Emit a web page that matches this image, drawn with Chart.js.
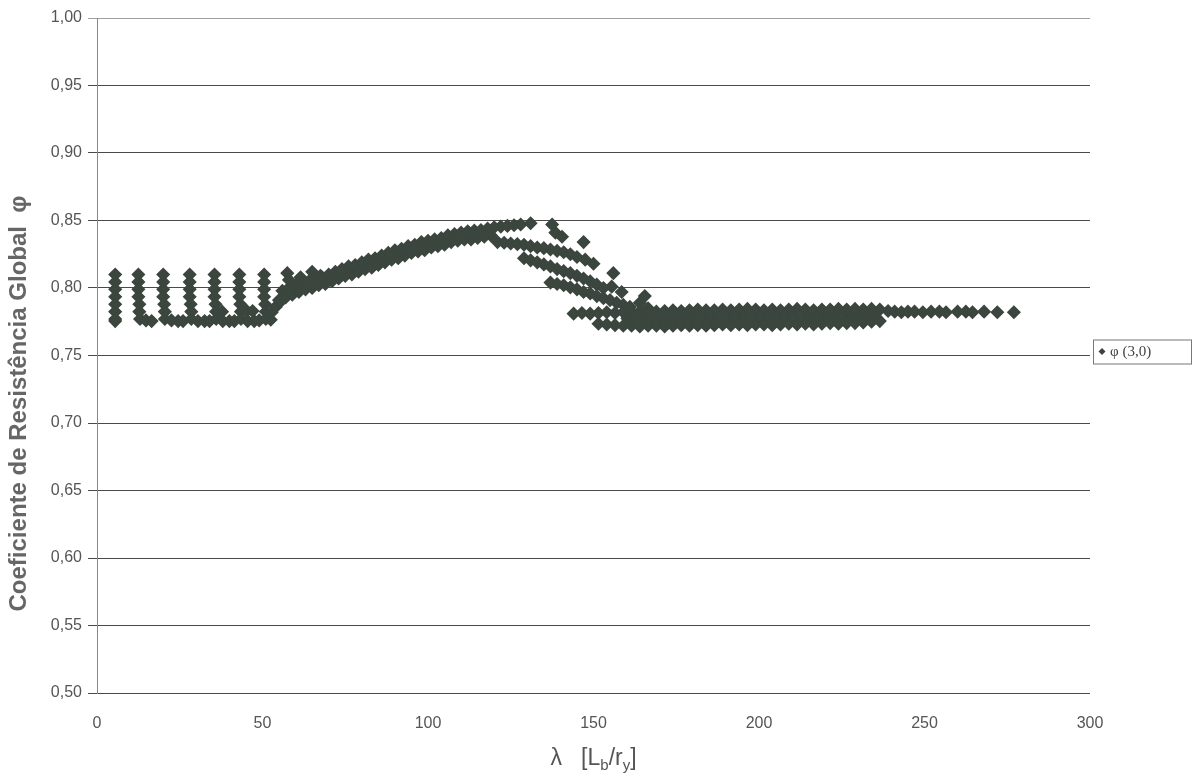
<!DOCTYPE html>
<html>
<head>
<meta charset="utf-8">
<script src="https://cdn.jsdelivr.net/npm/chart.js@4"></script>
<style>
  html, body { margin: 0; padding: 0; background: #fff; }
</style>
</head>
<body>
<canvas id="chartPhi" width="1195" height="775"></canvas>
<script>
const seriesLabel = 'φ (3,0)';
// trailing em spaces push the visible title a little below the axis middle, as in the source
const yTitle = 'Coeficiente de Resistência Global  φ\u2003\u2003\u2003\u2003';

// vertical columns on the left (lambda, phi)
const columnPoints = [
  [5.5,0.810],[5.5,0.8045],[5.5,0.799],[5.5,0.7935],[5.5,0.788],[5.5,0.7825],[5.5,0.777],[5.5,0.7755],
  [12.5,0.810],[12.5,0.8045],[12.5,0.799],[12.5,0.7935],[12.8,0.788],[12.8,0.7825],[13,0.777],[14.8,0.776],[16.5,0.7755],
  [20,0.810],[20,0.8045],[20,0.799],[20,0.7935],[20.3,0.788],[20.5,0.7825],[20.5,0.777],[22.5,0.776],[24.5,0.7755],[26,0.7755],
  [28,0.810],[28,0.8045],[28,0.799],[28,0.7935],[28.3,0.788],[28.5,0.7825],[28.5,0.777],[30.5,0.7755],[32.5,0.7755],[34,0.7755],
  [35.5,0.810],[35.5,0.8045],[35.5,0.799],[35.5,0.7935],[35.8,0.788],[36,0.7825],[36,0.777],[37.8,0.7825],[38,0.7755],[40,0.7755],[41.5,0.7755],
  [43,0.810],[43,0.8045],[43,0.799],[43,0.7935],[43.3,0.788],[43.5,0.7825],[43.5,0.777],[45.3,0.783],[47,0.783],[45.5,0.7755],[47.5,0.7755],[49,0.776],
  [50.5,0.810],[50.5,0.8045],[50.5,0.799],[50.5,0.7935],[50.8,0.788],[51,0.7825],[51,0.777],[52.5,0.7765],[52.8,0.782],[54,0.786],[55.5,0.790]
];

// small column tops where the band starts to rise
const ringPoints = [
  [57.5,0.811],[58,0.806],[58.5,0.801],[61.5,0.808],[65,0.812],[65.5,0.807],[67.5,0.809]
];

// rising band, upper and lower rows
const riseUpper = [
  [56,0.798],[58,0.800],[60,0.802],[62,0.804],[64,0.805],[66,0.807],[68,0.808],[70,0.810],
  [72,0.812],[74,0.814],[76,0.816],[78,0.817],[80,0.819],[82,0.821],[84,0.822],[86,0.824],
  [88,0.826],[90,0.828],[92,0.829],[94,0.831],[96,0.832],[98,0.834],[100,0.835],[102,0.836],
  [104,0.837],[106,0.839],[108,0.840],[110,0.841],[112,0.842],[114,0.8425],[116,0.843],[118,0.844],
  [120,0.845],[122,0.8455],[124,0.846],[126,0.8465],[128,0.847]
];
const riseLower = [
  [55,0.791],[57,0.793],[59,0.795],[61,0.797],[63,0.799],[65,0.800],[67,0.802],[69,0.803],
  [71,0.805],[73,0.807],[75,0.809],[77,0.810],[79,0.812],[81,0.814],[83,0.815],[85,0.817],
  [87,0.819],[89,0.821],[91,0.822],[93,0.824],[95,0.826],[97,0.827],[99,0.828],[101,0.830],
  [103,0.831],[105,0.832],[107,0.834],[109,0.835],[111,0.836],[113,0.836],[115,0.837],[117,0.838],
  [119,0.839]
];

// falling streaks after the peak
const streakDots = [
  [131,0.848],[137.5,0.847],[147,0.834],[156,0.811],[165.5,0.794]
];
const streakPairs = [
  [138.5,0.841],[140.5,0.838],[147.5,0.821],[150,0.818],[155.5,0.801],[158.5,0.797],[164,0.789],[166.5,0.785]
];
const fallBandA = [
  [121,0.834],[123,0.8335],[125,0.833],[127,0.8325],[129,0.832],[131,0.831],[133,0.830],
  [135,0.8295],[137,0.8285],[139,0.8275],[141,0.8265],[143,0.825],[145,0.823]
];
const fallBandB = [
  [129,0.822],[131,0.8205],[133,0.819],[135,0.8175],[137,0.816],[139,0.814],[141,0.8125],
  [143,0.811],[145,0.809],[147,0.807],[149,0.805],[151,0.8025],[153,0.800]
];
const fallBandC = [
  [137,0.804],[139,0.803],[141,0.802],[143,0.8005],[145,0.799],[147,0.797],[149,0.796],
  [151,0.794],[153,0.7925],[155,0.791],[157,0.789],[159,0.7875],[161,0.786]
];

// flat band around 0.775 - 0.78
const plateauTop = [
  [144,0.781],[146.5,0.7815],[149,0.781],[151.5,0.7815],[154,0.782],[156.5,0.7815],[159,0.782],[161.5,0.7825],
  [164,0.7825],[166.5,0.783],[169,0.7825],[171.5,0.783],[174,0.7835],[176.5,0.783],[179,0.7835],[181.5,0.784],
  [184,0.7835],[186.5,0.7835],[189,0.784],[191.5,0.7835],[194,0.784],[196.5,0.7845],[199,0.784],[201.5,0.7835],
  [204,0.784],[206.5,0.7835],[209,0.784],[211.5,0.7845],[214,0.784],[216.5,0.7835],[219,0.784],[221.5,0.784],
  [224,0.7845],[226.5,0.784],[229,0.7845],[231.5,0.784],[234,0.7845],[236.5,0.784],[239,0.783]
];
const plateauMid = [
  [160.25,0.7775],[162.75,0.778],[165.25,0.7775],[167.75,0.778],[170.25,0.7775],[172.75,0.778],[175.25,0.7785],
  [177.75,0.778],[180.25,0.7775],[182.75,0.778],[185.25,0.7785],[187.75,0.778],[190.25,0.7775],[192.75,0.778],
  [195.25,0.7785],[197.75,0.778],[200.25,0.778],[202.75,0.7775],[205.25,0.778],[207.75,0.7785],[210.25,0.778],
  [212.75,0.7775],[215.25,0.778],[217.75,0.7785],[220.25,0.778],[222.75,0.778],[225.25,0.7785],[227.75,0.778],
  [230.25,0.7785],[232.75,0.778],[235.25,0.7785]
];
const plateauLow = [
  [151.5,0.7735],[154,0.773],[156.5,0.7725],[159,0.772],[161.5,0.772],[164,0.7715],[166.5,0.772],[169,0.772],
  [171.5,0.7715],[174,0.772],[176.5,0.7725],[179,0.772],[181.5,0.7725],[184,0.772],[186.5,0.7725],[189,0.773],
  [191.5,0.7725],[194,0.773],[196.5,0.7725],[199,0.773],[201.5,0.773],[204,0.7725],[206.5,0.773],[209,0.7735],
  [211.5,0.773],[214,0.7735],[216.5,0.773],[219,0.7735],[221.5,0.774],[224,0.7735],[226.5,0.774],[229,0.774],
  [231.5,0.7745],[234,0.775],[236.5,0.7755]
];
const tailPoints = [
  [241,0.7825],[243,0.782],[245,0.7825],[247,0.7825],[249.5,0.782],[252,0.7825],[254.5,0.7825],[256.5,0.782],
  [260,0.7825],[262.5,0.7825],[264.5,0.782],[268,0.7825],[272,0.782],[277,0.782]
];

const allPoints = [].concat(columnPoints, ringPoints, riseUpper, riseLower, streakDots, streakPairs,
  fallBandA, fallBandB, fallBandC, plateauTop, plateauMid, plateauLow, tailPoints)
  .map(p => ({x: p[0], y: p[1]}));

const markColor = '#3b463e';

// x title with subscripts: λ  [Lb/ry]
const xTitlePlugin = {
  id: 'xTitle',
  afterDraw(chart) {
    const ctx = chart.ctx;
    const area = chart.chartArea;
    const parts = [
      {t: 'λ   [L', sub: false}, {t: 'b', sub: true}, {t: '/r', sub: false},
      {t: 'y', sub: true}, {t: ']', sub: false}
    ];
    const big = '23px "Liberation Sans", Arial, sans-serif';
    const small = '15px "Liberation Sans", Arial, sans-serif';
    ctx.save();
    let w = 0;
    parts.forEach(p => { ctx.font = p.sub ? small : big; w += ctx.measureText(p.t).width; });
    let x = (area.left + area.right) / 2 - w / 2;
    const y = 765;
    ctx.fillStyle = '#555';
    ctx.textBaseline = 'alphabetic';
    parts.forEach(p => {
      ctx.font = p.sub ? small : big;
      ctx.fillText(p.t, x, p.sub ? y + 5 : y);
      x += ctx.measureText(p.t).width;
    });
    ctx.restore();
  }
};

// legend in a framed box to the right of the plot
const legendBoxPlugin = {
  id: 'legendBox',
  afterDraw(chart) {
    const ctx = chart.ctx;
    const area = chart.chartArea;
    const bx = area.right + 3, by = (area.top + area.bottom) / 2 - 16;
    const bw = 98, bh = 24;
    ctx.save();
    ctx.strokeStyle = '#777';
    ctx.lineWidth = 1;
    ctx.strokeRect(bx + 0.5, by + 0.5, bw, bh);
    ctx.fillStyle = markColor;
    const cx = bx + 9, cy = by + bh / 2;
    ctx.beginPath();
    ctx.moveTo(cx - 3.5, cy); ctx.lineTo(cx, cy - 3.5); ctx.lineTo(cx + 3.5, cy); ctx.lineTo(cx, cy + 3.5);
    ctx.closePath(); ctx.fill();
    ctx.font = '15px "Liberation Serif", "Times New Roman", serif';
    ctx.fillStyle = '#444';
    ctx.textBaseline = 'middle';
    ctx.fillText(seriesLabel, bx + 17, cy + 1);
    ctx.restore();
  }
};

new Chart(document.getElementById('chartPhi'), {
  type: 'scatter',
  data: {
    datasets: [{
      label: seriesLabel,
      data: allPoints,
      backgroundColor: markColor,
      borderColor: markColor,
      borderWidth: 1.5,
      pointStyle: 'rectRot',
      pointRadius: 6,
      pointHoverRadius: 6
    }]
  },
  options: {
    responsive: false,
    animation: false,
    layout: { padding: { left: 0, right: 105, top: 18, bottom: 0 } },
    plugins: {
      legend: { display: false },
      tooltip: { enabled: false }
    },
    scales: {
      x: {
        type: 'linear',
        min: 0,
        max: 300,
        ticks: {
          stepSize: 50,
          padding: 13,
          color: '#555',
          font: { family: '"Liberation Sans", Arial, sans-serif', size: 16 }
        },
        grid: { display: false },
        border: { display: false },
        afterFit(scale) { scale.height = 82; }
      },
      y: {
        min: 0.5,
        max: 1.0,
        ticks: {
          stepSize: 0.05,
          padding: 6,
          color: '#555',
          font: { family: '"Liberation Sans", Arial, sans-serif', size: 16 },
          callback: v => v.toFixed(2).replace('.', ',')
        },
        grid: {
          color: ctx => (ctx.tick && ctx.tick.value === 1) ? '#a0a0a0' : '#4a4a4a',
          lineWidth: 1,
          tickLength: 9
        },
        border: { display: true, color: '#888' },
        title: {
          display: true,
          text: yTitle,
          color: '#666',
          padding: { top: 5, bottom: 0 },
          font: { family: '"Liberation Sans", Arial, sans-serif', size: 24, weight: 'bold' }
        },
        afterFit(scale) { scale.width = 97; }
      }
    }
  },
  plugins: [xTitlePlugin, legendBoxPlugin]
});
</script>
</body>
</html>
